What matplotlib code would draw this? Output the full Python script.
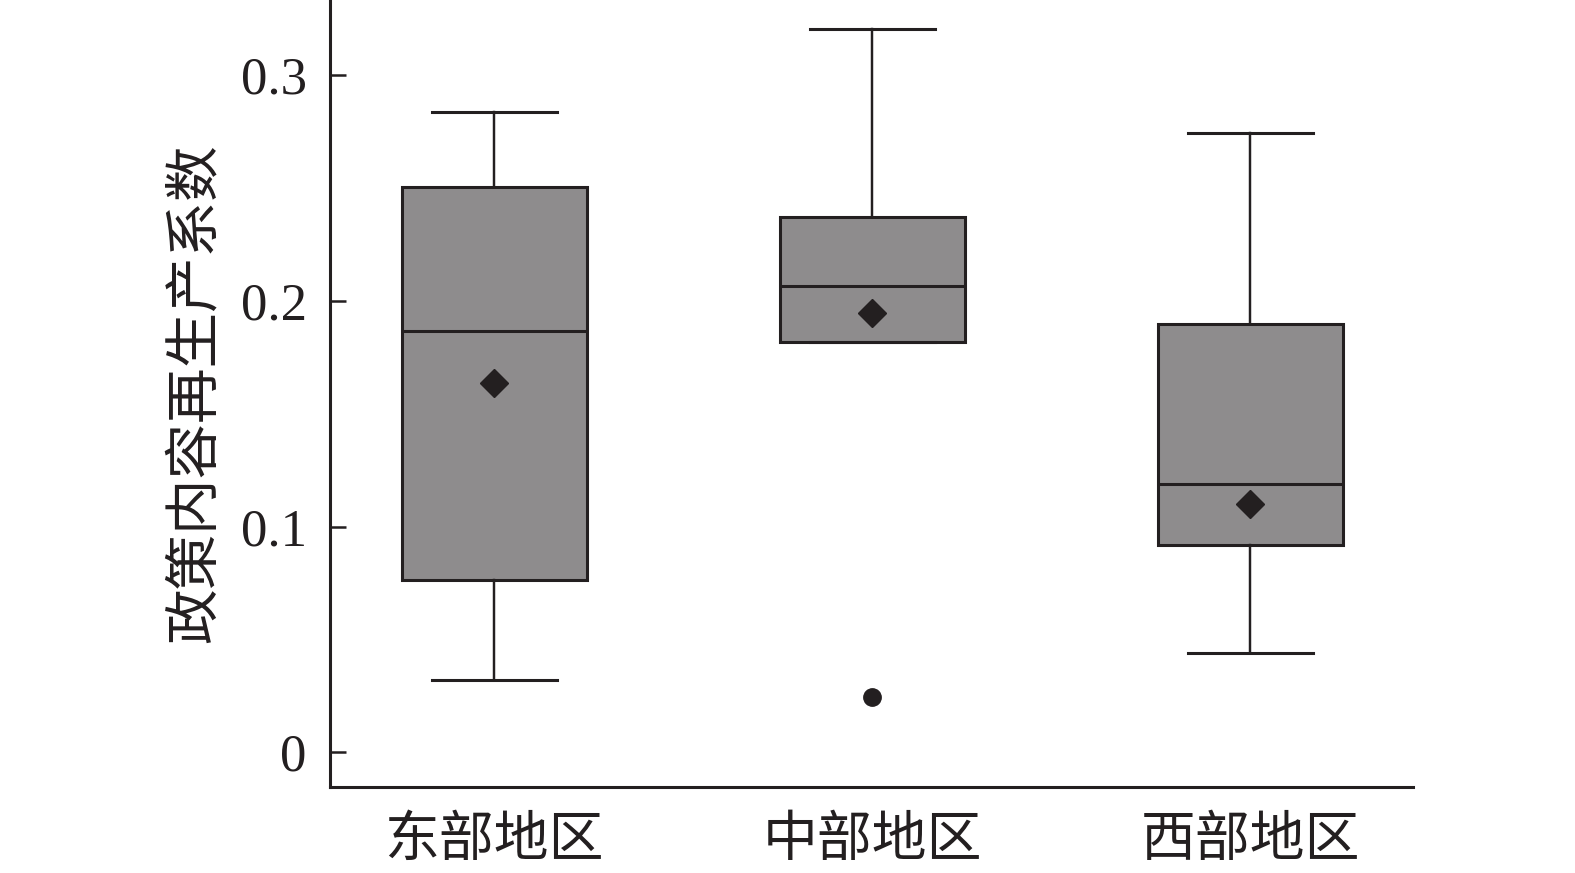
import matplotlib
matplotlib.use('Agg')
import matplotlib.pyplot as plt

plt.rcParams['font.family'] = ['Liberation Serif', 'Noto Sans CJK SC']

regions = ['东部地区', '中部地区', '西部地区']
whis_low = [0.032, 0.1816, 0.0441]
q1 = [0.0765, 0.1816, 0.0921]
median = [0.1865, 0.2065, 0.1188]
q3 = [0.2506, 0.2372, 0.190]
whis_high = [0.2839, 0.3204, 0.2746]
mean = [0.1638, 0.1945, 0.110]
outliers = [[], [0.0245], []]
ylabel = '政策内容再生产系数'

line_c = '#231f20'
fill_c = '#8e8c8d'

stats = []
for i in range(len(regions)):
    stats.append({'whislo': whis_low[i], 'q1': q1[i], 'med': median[i], 'q3': q3[i],
                  'whishi': whis_high[i], 'mean': mean[i], 'fliers': outliers[i]})

fig = plt.figure(figsize=(15.75, 8.73), dpi=100)
ax = fig.add_axes([0.2098, 0.099, 0.6873, 0.901])

lw = 2.2
ax.bxp(stats, positions=range(len(regions)), widths=0.49, capwidths=0.33,
       showmeans=True, patch_artist=True,
       boxprops=dict(facecolor=fill_c, edgecolor=line_c, linewidth=lw),
       medianprops=dict(color=line_c, linewidth=lw),
       whiskerprops=dict(color=line_c, linewidth=lw * 0.8),
       capprops=dict(color=line_c, linewidth=lw),
       meanprops=dict(marker='D', markerfacecolor=line_c, markeredgecolor=line_c, markersize=14),
       flierprops=dict(marker='o', markerfacecolor=line_c, markeredgecolor=line_c, markersize=12.5))

ax.set_xlim(-0.433, 2.43)
ax.set_ylim(-0.0151, 0.3333)
ax.set_yticks([0, 0.1, 0.2, 0.3])
ax.set_yticklabels(['0', '0.1', '0.2', '0.3'])
ax.set_xticks(range(len(regions)))
ax.set_xticklabels(regions)

for s in ['top', 'right']:
    ax.spines[s].set_visible(False)
for s in ['left', 'bottom']:
    ax.spines[s].set_linewidth(2.2)
    ax.spines[s].set_color(line_c)

ax.tick_params(axis='y', direction='in', length=11.5, width=1.8, pad=17, labelsize=38, colors=line_c)
ax.tick_params(axis='x', length=0, pad=22, labelsize=39.5, colors=line_c)

ax.set_ylabel(ylabel, fontsize=40, color=line_c)
ax.yaxis.set_label_coords(-0.10, 0.5)

fig.savefig('out.png', dpi=100)
